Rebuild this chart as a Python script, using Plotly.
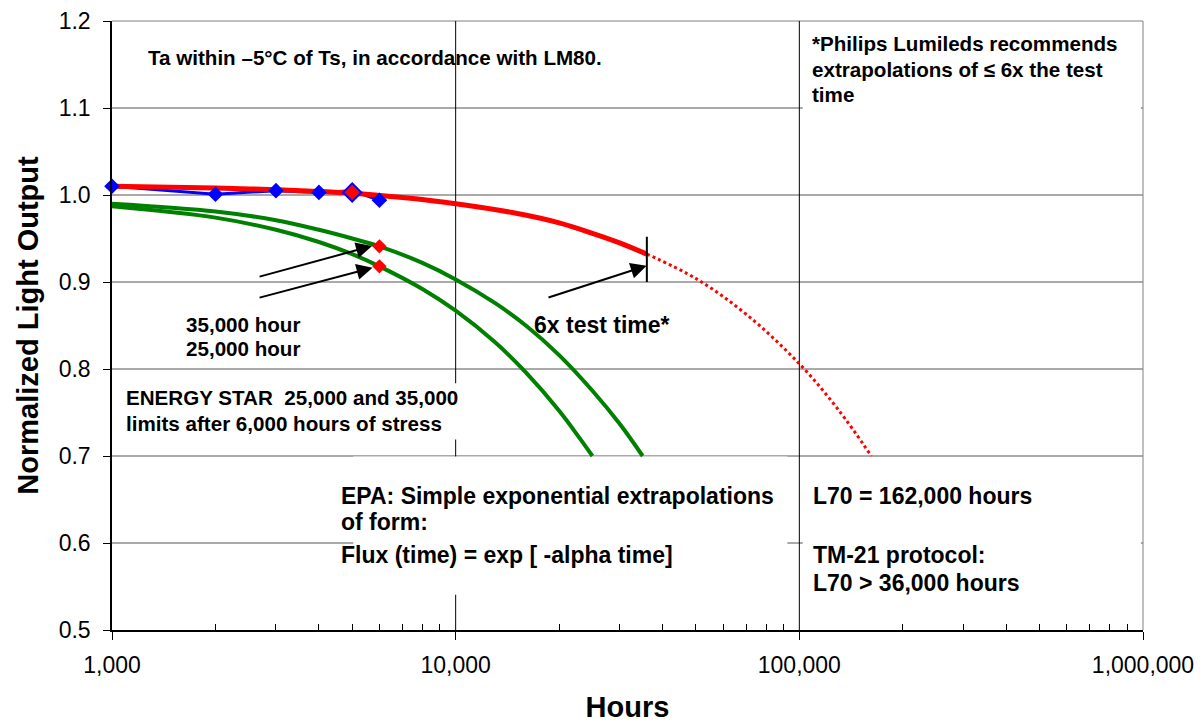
import math
import plotly.graph_objects as go

# ---------------- data ----------------
hours_measured = [1000, 2000, 3000, 4000, 5000, 6000]
output_measured = [1.010, 1.001, 1.005, 1.003, 1.005, 0.994]

fit_point_hours = [5000]
fit_point_values = [1.003]

red_fit_hours = [1000, 2000, 3000, 5000, 7000, 10000, 15000, 20000, 25000, 30000, 36000]
red_fit_values = [1.010, 1.008, 1.006, 1.002, 0.997, 0.990, 0.979, 0.968, 0.956, 0.945, 0.932]

red_extrap_hours = [36000, 50000, 70000, 100000, 130000, 162000]
red_extrap_values = [0.932, 0.904, 0.863, 0.806, 0.753, 0.700]

green_35k_hours = [1000, 2000, 3000, 4000, 5000, 6000, 8000, 10000, 13000, 16000, 20000, 25000, 30000, 35000]
green_35k_values = [0.990, 0.981, 0.971, 0.960, 0.950, 0.941, 0.922, 0.903, 0.876, 0.850, 0.816, 0.775, 0.737, 0.700]

green_25k_hours = [1000, 2000, 3000, 4000, 5000, 6000, 8000, 10000, 13000, 16000, 20000, 23000, 25000]
green_25k_values = [0.987, 0.974, 0.960, 0.946, 0.932, 0.918, 0.892, 0.867, 0.831, 0.796, 0.752, 0.720, 0.700]

estar_hours = [6000, 6000]
estar_values = [0.941, 0.918]

sixx_hours = [36000, 36000]
sixx_values = [0.952, 0.900]

x_tick_vals = [1000, 10000, 100000, 1000000]
x_tick_text = ["1,000", "10,000", "100,000", "1,000,000"]
x_grid_vals = [10000, 100000]
x_minor_vals = [m * d for d in (1000, 10000, 100000) for m in range(2, 10)]
y_tick_vals = [0.5, 0.6, 0.7, 0.8, 0.9, 1.0, 1.1, 1.2]
y_tick_text = ["0.5", "0.6", "0.7", "0.8", "0.9", "1.0", "1.1", "1.2"]

X_RANGE = [2.99999, 6]
Y_RANGE = [0.5, 1.2]

FONT = "Arial, Liberation Sans, Helvetica, sans-serif"

fig = go.Figure()

fig.add_trace(go.Scatter(x=hours_measured, y=output_measured, mode="lines",
                         line=dict(color="#0000FF", width=3), showlegend=False))
fig.add_trace(go.Scatter(x=red_fit_hours, y=red_fit_values, mode="lines",
                         line=dict(color="#FF0000", width=5, shape="spline"), showlegend=False))
fig.add_trace(go.Scatter(x=red_extrap_hours, y=red_extrap_values, mode="lines",
                         line=dict(color="#FF0000", width=3, dash="dot", shape="spline"),
                         showlegend=False))
fig.add_trace(go.Scatter(x=green_35k_hours, y=green_35k_values, mode="lines",
                         line=dict(color="#008000", width=4, shape="spline"), showlegend=False))
fig.add_trace(go.Scatter(x=green_25k_hours, y=green_25k_values, mode="lines",
                         line=dict(color="#008000", width=4, shape="spline"), showlegend=False))
fig.add_trace(go.Scatter(x=sixx_hours, y=sixx_values, mode="lines",
                         line=dict(color="#000000", width=2), showlegend=False))
fig.add_trace(go.Scatter(x=hours_measured, y=output_measured, mode="markers", cliponaxis=False,
                         marker=dict(symbol="diamond", size=12, color="#0000FF",
                                     line=dict(width=0)), showlegend=False))
fig.add_trace(go.Scatter(x=fit_point_hours, y=fit_point_values, mode="markers", cliponaxis=False,
                         marker=dict(symbol="diamond", size=14, color="#FF0000",
                                     line=dict(width=2, color="#0000FF")), showlegend=False))
fig.add_trace(go.Scatter(x=estar_hours, y=estar_values, mode="markers", cliponaxis=False,
                         marker=dict(symbol="diamond", size=11, color="#FF0000",
                                     line=dict(width=0)), showlegend=False))

# ---------------- text ----------------
small = dict(family=FONT, size=20.6, color="#000000")
big = dict(family=FONT, size=23, color="#000000")

texts = [
    ("Ta within \u20135\u00b0C of Ts, in accordance with LM80.", 3.099, 1.1586, small),
    ("*Philips Lumileds recommends", 5.030, 1.1736, small),
    ("extrapolations of \u2264 6x the test", 5.030, 1.1437, small),
    ("time", 5.030, 1.1150, small),
    ("35,000 hour", 3.209, 0.8506, small),
    ("25,000 hour", 3.209, 0.8230, small),
    ("6x test time*", 4.222, 0.8506, big),
    ("ENERGY STAR  25,000 and 35,000", 3.035, 0.7667, small),
    ("limits after 6,000 hours of stress", 3.035, 0.7368, small),
    ("EPA: Simple exponential extrapolations", 3.660, 0.6540, big),
    ("of form:", 3.660, 0.6241, big),
    ("Flux (time) = exp [ -alpha time]", 3.660, 0.5862, big),
    ("L70 = 162,000 hours", 5.033, 0.6540, big),
    ("TM-21 protocol:", 5.033, 0.5862, big),
    ("L70 > 36,000 hours", 5.033, 0.5540, big),
]
annotations = []
for t, x, y, f in texts:
    annotations.append(dict(text="<b>" + t.replace(">", "&gt;") + "</b>", x=x, y=y,
                            xref="x", yref="y", xanchor="left", yanchor="middle",
                            showarrow=False, font=f))

# arrows: tail -> head
arrow_tail_hours = [2661, 2661, 18440]
arrow_tail_values = [0.9057, 0.8816, 0.8816]
arrow_head_hours = [5710, 5730, 35960]
arrow_head_values = [0.9414, 0.9164, 0.9187]
for th, tv, hh, hv in zip(arrow_tail_hours, arrow_tail_values, arrow_head_hours, arrow_head_values):
    annotations.append(dict(text="", x=math.log10(hh), y=hv, ax=math.log10(th), ay=tv,
                            xref="x", yref="y", axref="x", ayref="y",
                            showarrow=True, arrowhead=2, arrowsize=1.6, arrowwidth=2,
                            arrowcolor="#000000", standoff=0))

# ---------------- gridlines + text-box backgrounds as shapes ----------------
def xfrac(v):
    return (math.log10(v) - X_RANGE[0]) / (X_RANGE[1] - X_RANGE[0])

def yfrac(v):
    return (v - Y_RANGE[0]) / (Y_RANGE[1] - Y_RANGE[0])

shapes = []
for v in y_tick_vals[1:]:
    shapes.append(dict(type="line", xref="paper", yref="paper", x0=0, x1=1,
                       y0=yfrac(v), y1=yfrac(v),
                       line=dict(color="#555555" if v < 1.2 else "#808080", width=1),
                       layer="below"))
for v in x_grid_vals:
    shapes.append(dict(type="line", xref="paper", yref="paper", x0=xfrac(v), x1=xfrac(v),
                       y0=0, y1=1, line=dict(color="#000000", width=1), layer="below"))
shapes.append(dict(type="line", xref="paper", yref="paper", x0=1, x1=1, y0=0, y1=1,
                   line=dict(color="#808080", width=1), layer="below"))


def box(x0, x1, y0, y1):
    return dict(type="rect", xref="paper", yref="paper", x0=x0, x1=x1, y0=y0, y1=y1,
                fillcolor="white", line=dict(width=0), layer="below")

shapes += [
    box(0.670, 0.998, 0.853, 0.997),   # Philips note
    box(0.008, 0.345, 0.313, 0.405),   # ENERGY STAR note
    box(0.234, 0.655, 0.058, 0.285),   # EPA note
    box(0.670, 0.998, 0.058, 0.26),    # L70 note
]

fig.update_layout(
    width=1195, height=715,
    margin=dict(l=104, r=60, t=13, b=93),
    plot_bgcolor="rgba(0,0,0,0)", paper_bgcolor="white",
    font=dict(family=FONT, color="#000000"),
    annotations=annotations, shapes=shapes,
    xaxis=dict(type="log", range=X_RANGE, tickmode="array", tickvals=x_tick_vals,
               ticktext=x_tick_text, ticks="outside", ticklen=8, tickwidth=1,
               tickcolor="#000", showline=True, linecolor="#000", linewidth=1.5,
               showgrid=False, zeroline=False, automargin=False,
               tickfont=dict(family=FONT, size=23, color="#000"), ticklabelstandoff=6,
               minor=dict(tickmode="array", tickvals=x_minor_vals, ticks="inside",
                          ticklen=6, tickcolor="#000", showgrid=False),
               title=dict(text="<b>Hours</b>", font=dict(family=FONT, size=29, color="#000"),
                          standoff=44)),
    yaxis=dict(range=Y_RANGE, tickmode="array", tickvals=y_tick_vals,
               ticktext=y_tick_text, ticks="outside", ticklen=7, tickwidth=1,
               tickcolor="#000", showline=True, linecolor="#000", linewidth=1.5,
               showgrid=False, zeroline=False, automargin=False,
               tickfont=dict(family=FONT, size=23, color="#000"), ticklabelstandoff=8,
               title=dict(text="<b>Normalized Light Output</b>",
                          font=dict(family=FONT, size=29, color="#000"), standoff=12)),
)

fig.write_html("out.html")
